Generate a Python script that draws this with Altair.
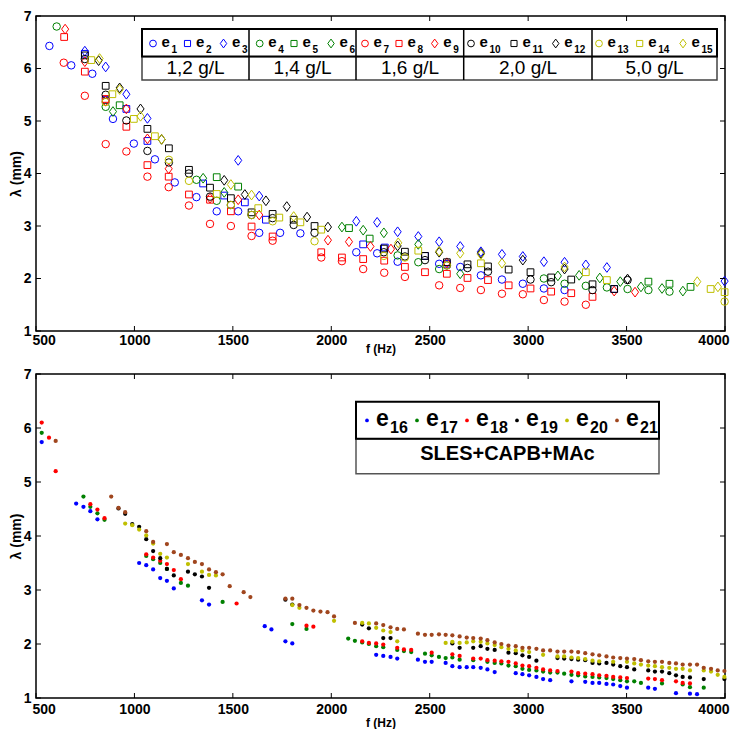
import altair as alt
import pandas as pd

FONT = "Liberation Sans"

# ---------------- top panel data (f in Hz, lambda in mm) ----------------
F_E1 = [568, 679, 786, 891, 997, 1104, 1205, 1315, 1418, 1527, 1634, 1740, 1843, 2127, 2233, 2337, 2548, 2655, 2760, 2867, 2973, 3080, 3185]
L_E1 = [6.43, 6.06, 5.90, 5.04, 4.57, 4.27, 3.83, 3.55, 3.28, 3.28, 2.87, 2.87, 2.86, 2.50, 2.48, 2.32, 2.28, 2.22, 2.06, 1.98, 1.90, 1.81, 1.78]
F_E2 = [748, 854, 959, 1066, 1349, 1456, 1561, 1668, 2162, 2272, 2476, 2587, 3437]
L_E2 = [6.28, 5.40, 5.23, 4.62, 3.81, 3.58, 3.45, 3.12, 2.65, 2.59, 2.43, 2.28, 1.80]
F_E3 = [748, 854, 959, 1066, 1527, 1634, 2127, 2233, 2337, 2442, 2548, 2655, 2760, 2867, 2973, 3080, 3185, 3293, 3400, 3998]
L_E3 = [6.33, 6.03, 5.51, 5.05, 4.25, 3.57, 3.09, 3.07, 2.89, 2.80, 2.70, 2.61, 2.51, 2.46, 2.42, 2.32, 2.31, 2.26, 2.21, 1.95]
F_E4 = [605, 854, 1315, 1418, 2337, 2442, 2548, 3080, 3185, 3293, 3400, 3505, 3611, 3718]
L_E4 = [6.80, 5.27, 3.88, 3.48, 2.44, 2.31, 2.18, 2.00, 1.90, 1.86, 1.83, 1.80, 1.78, 1.75]
F_E5 = [925, 1418, 1527, 2090, 2195, 3611, 3718, 3825]
L_E5 = [5.30, 3.93, 3.75, 2.96, 2.76, 1.94, 1.90, 1.84]
F_E6 = [891, 1349, 1456, 2054, 2162, 2267, 2442, 2655, 3151, 3259, 3364, 3468, 3573, 3680, 3786]
L_E6 = [5.18, 3.91, 3.64, 2.98, 2.92, 2.87, 2.65, 2.09, 2.05, 2.06, 2.01, 1.94, 1.84, 1.81, 1.76]
F_E7 = [641, 748, 854, 959, 1066, 1174, 1277, 1384, 1490, 1595, 1702, 1949, 2054, 2162, 2269, 2374, 2548, 2655, 2760, 2867, 2973, 3080, 3185, 3293]
L_E7 = [6.11, 5.48, 4.56, 4.42, 3.94, 3.74, 3.39, 3.04, 3.00, 2.81, 2.72, 2.40, 2.33, 2.18, 2.11, 2.03, 1.87, 1.82, 1.78, 1.71, 1.70, 1.59, 1.56, 1.50]
F_E8 = [643, 748, 854, 959, 1066, 1174, 1277, 1384, 1490, 1595, 1702, 1949, 2054, 2162, 2269, 2374, 2476, 2587, 2692, 2796, 2901, 3012, 3117, 3219, 3327]
L_E8 = [6.60, 5.94, 5.42, 4.89, 4.16, 3.94, 3.60, 3.50, 3.28, 2.99, 2.80, 2.50, 2.40, 2.37, 2.34, 2.22, 2.12, 2.09, 2.01, 1.97, 1.87, 1.81, 1.75, 1.72, 1.65]
F_E9 = [648, 748, 854, 959, 1066, 1174, 1384, 1527, 1634, 1983, 2090, 2199, 2303, 2587, 3437, 3543]
L_E9 = [6.75, 6.13, 5.38, 5.23, 4.66, 4.09, 3.53, 3.50, 3.21, 2.73, 2.70, 2.61, 2.56, 2.30, 1.76, 1.74]
F_E10 = [748, 854, 959, 1066, 1175, 1277, 1384, 1490, 1595, 1702, 1809, 1915, 2267, 2374, 2476, 2587, 2692, 2796, 3012, 3117, 3327, 3505]
L_E10 = [6.18, 5.50, 5.01, 4.43, 4.21, 4.00, 3.56, 3.40, 3.21, 3.15, 3.02, 2.87, 2.50, 2.42, 2.35, 2.25, 2.20, 2.13, 1.98, 1.93, 1.78, 1.97]
F_E11 = [748, 854, 1066, 1175, 1277, 1384, 1490, 1595, 1702, 1809, 1915, 2267, 2374, 2476, 2587, 2692, 2796, 2901, 3012, 3117, 3219, 3327, 3437]
L_E11 = [6.25, 5.67, 4.85, 4.48, 4.07, 3.73, 3.53, 3.26, 3.23, 3.12, 3.00, 2.57, 2.51, 2.43, 2.31, 2.27, 2.23, 2.17, 2.12, 2.02, 1.98, 1.89, 1.80]
F_E12 = [818, 925, 1031, 1138, 1456, 1561, 1668, 1774, 1877, 1983, 2337, 2548, 2760, 2973, 3185, 3505]
L_E12 = [6.15, 5.63, 5.23, 4.65, 3.87, 3.60, 3.48, 3.37, 3.17, 2.98, 2.62, 2.50, 2.48, 2.35, 2.18, 1.99]
F_E13 = [854, 1175, 1277, 1490, 1595, 1702, 1915, 2267, 2374, 2587, 3998]
L_E13 = [5.36, 4.26, 3.86, 3.40, 3.21, 3.09, 2.71, 2.43, 2.40, 2.25, 1.56]
F_E14 = [781, 888, 997, 1104, 1418, 1629, 1736, 1843, 1949, 2442, 2760, 3293, 3400, 3927, 3998]
L_E14 = [6.16, 5.51, 5.04, 4.71, 3.61, 3.34, 3.16, 3.07, 2.93, 2.53, 2.29, 2.12, 1.97, 1.80, 1.74]
F_E15 = [823, 925, 1031, 1138, 1490, 1595, 1809, 2340, 2548, 2655, 2760, 2867, 3185, 3859, 3964]
L_E15 = [6.19, 5.60, 5.09, 4.65, 3.79, 3.59, 3.18, 2.68, 2.52, 2.48, 2.46, 2.29, 2.22, 1.94, 1.84]

TOP_NAMES = ["e1", "e2", "e3", "e4", "e5", "e6", "e7", "e8", "e9", "e10", "e11", "e12", "e13", "e14", "e15"]
TOP_F = [F_E1, F_E2, F_E3, F_E4, F_E5, F_E6, F_E7, F_E8, F_E9, F_E10, F_E11, F_E12, F_E13, F_E14, F_E15]
TOP_L = [L_E1, L_E2, L_E3, L_E4, L_E5, L_E6, L_E7, L_E8, L_E9, L_E10, L_E11, L_E12, L_E13, L_E14, L_E15]
GROUP_LABELS = ["1,2 g/L", "1,4 g/L", "1,6 g/L", "2,0 g/L", "5,0 g/L"]

# ---------------- bottom panel data ----------------
F_E16 = [529, 704, 741, 776, 812, 1024, 1060, 1095, 1131, 1165, 1200, 1343, 1379, 1662, 1696, 1767, 1802, 2228, 2264, 2301, 2335, 2440, 2476, 2510, 2581, 2615, 2652, 2688, 2721, 2759, 2793, 2830, 2937, 2971, 3005, 3042, 3076, 3112, 3220, 3290, 3327, 3361, 3398, 3432, 3468, 3502, 3610, 3644, 3751, 3822, 3858]
L_E16 = [5.74, 4.60, 4.54, 4.46, 4.31, 3.50, 3.46, 3.38, 3.22, 3.17, 3.03, 2.81, 2.73, 2.33, 2.27, 2.05, 2.01, 1.80, 1.78, 1.76, 1.73, 1.71, 1.67, 1.67, 1.65, 1.59, 1.57, 1.57, 1.57, 1.56, 1.53, 1.48, 1.46, 1.44, 1.42, 1.39, 1.35, 1.33, 1.31, 1.30, 1.28, 1.28, 1.26, 1.25, 1.22, 1.19, 1.19, 1.17, 1.09, 1.08, 1.07]
F_E17 = [529, 741, 776, 812, 848, 1060, 1095, 1131, 1165, 1236, 1272, 1448, 1802, 1874, 2086, 2120, 2157, 2191, 2228, 2264, 2335, 2369, 2406, 2476, 2510, 2547, 2581, 2615, 2652, 2721, 2793, 2830, 2864, 2900, 2937, 2971, 3005, 3042, 3076, 3112, 3149, 3183, 3220, 3254, 3290, 3327, 3361, 3398, 3432, 3468, 3502, 3539, 3573, 3680, 3785, 3822, 3892]
L_E17 = [5.91, 4.73, 4.54, 4.42, 4.30, 3.63, 3.57, 3.50, 3.39, 3.13, 3.08, 2.78, 2.37, 2.28, 2.10, 2.06, 2.03, 2.00, 1.96, 1.94, 1.89, 1.87, 1.85, 1.82, 1.79, 1.76, 1.74, 1.75, 1.71, 1.70, 1.67, 1.65, 1.64, 1.60, 1.59, 1.54, 1.52, 1.51, 1.49, 1.47, 1.47, 1.45, 1.43, 1.42, 1.40, 1.39, 1.38, 1.37, 1.35, 1.33, 1.31, 1.31, 1.28, 1.27, 1.25, 1.20, 1.19]
F_E18 = [529, 566, 600, 776, 812, 848, 1060, 1095, 1131, 1165, 1200, 1236, 1519, 1874, 1909, 2157, 2191, 2228, 2264, 2335, 2369, 2406, 2510, 2615, 2652, 2721, 2759, 2793, 2830, 2864, 2900, 2937, 2971, 3005, 3042, 3076, 3112, 3149, 3220, 3254, 3290, 3327, 3361, 3398, 3432, 3468, 3502, 3610, 3644, 3680, 3751, 3785, 3822]
L_E18 = [6.10, 5.82, 5.20, 4.59, 4.49, 4.33, 3.66, 3.60, 3.54, 3.48, 3.37, 3.20, 2.75, 2.34, 2.32, 2.05, 2.02, 2.01, 1.99, 1.93, 1.90, 1.89, 1.84, 1.81, 1.78, 1.73, 1.73, 1.70, 1.69, 1.68, 1.67, 1.64, 1.60, 1.59, 1.56, 1.53, 1.51, 1.50, 1.49, 1.46, 1.45, 1.44, 1.42, 1.41, 1.39, 1.38, 1.37, 1.36, 1.35, 1.33, 1.31, 1.28, 1.27]
F_E19 = [919, 953, 989, 1024, 1060, 1095, 1131, 1165, 1200, 1272, 1307, 1343, 1379, 1767, 1802, 2157, 2191, 2264, 2301, 2615, 2652, 2721, 2759, 2793, 2830, 2900, 2937, 2971, 3005, 3042, 3149, 3183, 3220, 3254, 3290, 3327, 3361, 3398, 3432, 3468, 3502, 3539, 3610, 3644, 3680, 3717, 3751, 3785, 3822, 3892, 3997]
L_E19 = [4.51, 4.41, 4.22, 4.17, 3.94, 3.72, 3.59, 3.39, 3.27, 3.34, 3.29, 3.25, 3.04, 2.82, 2.73, 2.36, 2.29, 2.11, 2.11, 2.01, 1.93, 1.93, 1.96, 1.91, 1.89, 1.84, 1.83, 1.79, 1.76, 1.69, 1.74, 1.73, 1.72, 1.71, 1.70, 1.65, 1.64, 1.65, 1.62, 1.59, 1.57, 1.53, 1.51, 1.49, 1.49, 1.46, 1.42, 1.39, 1.38, 1.35, 1.35]
F_E20 = [953, 989, 1024, 1060, 1095, 1131, 1165, 1272, 1343, 1379, 1414, 1802, 1838, 2014, 2157, 2191, 2228, 2264, 2301, 2335, 2581, 2615, 2652, 2688, 2721, 2759, 2793, 2830, 2864, 2900, 2937, 2971, 3005, 3076, 3149, 3183, 3220, 3254, 3290, 3327, 3361, 3432, 3502, 3539, 3573, 3610, 3644, 3680, 3717, 3751, 3785, 3822, 3892, 3929, 3963, 3997]
L_E20 = [4.23, 4.20, 4.12, 4.01, 3.86, 3.67, 3.60, 3.48, 3.34, 3.28, 3.27, 2.72, 2.67, 2.43, 2.39, 2.38, 2.30, 2.25, 2.22, 2.05, 2.02, 2.04, 2.02, 2.03, 2.05, 2.04, 2.01, 1.98, 1.94, 1.91, 1.88, 1.88, 1.85, 1.80, 1.77, 1.77, 1.75, 1.74, 1.72, 1.69, 1.68, 1.67, 1.67, 1.64, 1.62, 1.60, 1.59, 1.57, 1.56, 1.54, 1.54, 1.51, 1.51, 1.49, 1.43, 1.39]
F_E21 = [600, 882, 919, 953, 1060, 1095, 1165, 1200, 1236, 1272, 1307, 1343, 1379, 1414, 1448, 1484, 1555, 1589, 1767, 1802, 1838, 1874, 1909, 1945, 1981, 2014, 2120, 2228, 2264, 2301, 2335, 2369, 2440, 2476, 2510, 2547, 2581, 2615, 2652, 2688, 2721, 2759, 2793, 2830, 2864, 2900, 2937, 2971, 3005, 3042, 3076, 3112, 3149, 3183, 3220, 3254, 3290, 3327, 3361, 3398, 3432, 3468, 3502, 3539, 3573, 3610, 3644, 3680, 3717, 3751, 3785, 3822, 3858, 3892, 3929, 3963, 3997]
L_E21 = [5.76, 4.73, 4.52, 4.44, 4.09, 3.89, 3.85, 3.70, 3.65, 3.59, 3.52, 3.48, 3.38, 3.33, 3.29, 3.07, 2.96, 2.87, 2.84, 2.84, 2.72, 2.67, 2.62, 2.60, 2.59, 2.51, 2.39, 2.38, 2.35, 2.31, 2.28, 2.27, 2.19, 2.17, 2.17, 2.18, 2.17, 2.16, 2.14, 2.12, 2.11, 2.10, 2.07, 2.03, 2.00, 1.97, 1.96, 1.93, 1.93, 1.91, 1.88, 1.88, 1.86, 1.86, 1.86, 1.85, 1.83, 1.81, 1.79, 1.77, 1.75, 1.74, 1.73, 1.72, 1.70, 1.68, 1.67, 1.67, 1.65, 1.64, 1.62, 1.62, 1.62, 1.56, 1.54, 1.51, 1.50]

BOT_NAMES = ["e16", "e17", "e18", "e19", "e20", "e21"]
BOT_F = [F_E16, F_E17, F_E18, F_E19, F_E20, F_E21]
BOT_L = [L_E16, L_E17, L_E18, L_E19, L_E20, L_E21]
BOT_LABEL = "SLES+CAPB+MAc"

X_TICKS = [500, 1000, 1500, 2000, 2500, 3000, 3500, 4000]
Y_TICKS = [1, 2, 3, 4, 5, 6, 7]
X_TITLE = "f (Hz)"
Y_TITLE = "λ (mm)"

# ---------------- styling ----------------
BLUE, GREEN, RED, BLACK, YELLOW, BROWN = "#0000ff", "#008000", "#ff0000", "#000000", "#bfbf00", "#a0461e"
TOP_COLORS = [BLUE] * 3 + [GREEN] * 3 + [RED] * 3 + [BLACK] * 3 + [YELLOW] * 3
SQUARE = "M-0.9,-0.9H0.9V0.9H-0.9Z"
DIAMOND = "M0,-1.3L0.95,0L0,1.3L-0.95,0Z"
TOP_SHAPES = ["circle", SQUARE, DIAMOND] * 5
BOT_COLORS = [BLUE, GREEN, RED, BLACK, YELLOW, BROWN]

W = 689
HT = 315
HB = 324
XMIN, XMAX, YMIN, YMAX = 500, 4000, 1, 7
TICK = 5


def fx(px):
    return XMIN + px * (XMAX - XMIN) / W


def ly(py, h):
    return YMAX - py * (YMAX - YMIN) / h


def encx(label_pad, title_y):
    return alt.X("f:Q", scale=alt.Scale(domain=[XMIN, XMAX], nice=False, zero=False),
                 axis=alt.Axis(values=X_TICKS, format="d", title=X_TITLE, grid=False, ticks=False,
                               tickSize=0, domain=False, labelFlush=True, labelFlushOffset=4,
                               labelFont=FONT, labelFontSize=14,
                               labelFontWeight="bold", labelColor="black", labelPadding=label_pad,
                               titleFont=FONT, titleFontSize=12, titleFontWeight="bold",
                               titleColor="black", titleY=title_y, titleBaseline="middle"))


def ency(h):
    return alt.Y("lam:Q", scale=alt.Scale(domain=[YMIN, YMAX], nice=False, zero=False),
                 axis=alt.Axis(values=Y_TICKS, format="d", title=Y_TITLE, grid=False, ticks=False,
                               tickSize=0, domain=False, labelFlush=False, labelFont=FONT, labelFontSize=14,
                               labelFontWeight="bold", labelColor="black", labelPadding=5,
                               titleFont=FONT, titleFontSize=14, titleFontWeight="bold",
                               titleColor="black", titleAngle=-90, titleX=-20, titleY=h / 2,
                               titleAlign="center", titleBaseline="middle"))


def tick_layers(h, X, Y):
    bt = pd.DataFrame({"f": X_TICKS, "lam": [YMIN] * len(X_TICKS), "lam2": [ly(h - TICK, h)] * len(X_TICKS)})
    tt = pd.DataFrame({"f": X_TICKS, "lam": [YMAX] * len(X_TICKS), "lam2": [ly(TICK, h)] * len(X_TICKS)})
    lt = pd.DataFrame({"lam": Y_TICKS, "f": [XMIN] * len(Y_TICKS), "f2": [fx(TICK)] * len(Y_TICKS)})
    rt = pd.DataFrame({"lam": Y_TICKS, "f": [XMAX] * len(Y_TICKS), "f2": [fx(W - TICK)] * len(Y_TICKS)})
    layers = []
    for d in (bt, tt):
        layers.append(alt.Chart(d).mark_rule(color="black", strokeWidth=1).encode(x=X, y=Y, y2="lam2:Q"))
    for d in (lt, rt):
        layers.append(alt.Chart(d).mark_rule(color="black", strokeWidth=1).encode(x=X, x2="f2:Q", y=Y))
    return layers


# ================= TOP PANEL =================
XT = encx(2, 17)
YT = ency(HT)
rows = []
for name, fs, ls in zip(TOP_NAMES, TOP_F, TOP_L):
    for f, l in zip(fs, ls):
        rows.append({"f": f, "lam": l, "s": name})
top_df = pd.DataFrame(rows)

color_top = alt.Color("s:N", scale=alt.Scale(domain=TOP_NAMES, range=TOP_COLORS), legend=None)
shape_top = alt.Shape("s:N", scale=alt.Scale(domain=TOP_NAMES, range=TOP_SHAPES), legend=None)

top_pts = alt.Chart(top_df).mark_point(filled=False, size=56, strokeWidth=1, opacity=1).encode(
    x=XT, y=YT, color=color_top, shape=shape_top)

# legend geometry (pixels relative to the plot area)
LEG_X0, LEG_X1 = 106, 681
LEG_Y0, LEG_YM, LEG_Y1 = 13, 40.5, 64
LEG_DIV = [213, 320, 427.7, 556]
LEG_MARK_X = [117, 151.5, 187.5, 223.7, 258, 295, 329, 363, 398.7, 435, 478, 519.7, 563, 603.7, 647]
LEG_GROUP_X = [159.5, 266.5, 374, 492, 618.5]

row2 = pd.DataFrame({"f": [fx(LEG_X0)], "f2": [fx(LEG_X1)], "lam": [ly(LEG_YM, HT)], "lam2": [ly(LEG_Y1, HT)]})
row1 = pd.DataFrame({"f": [fx(LEG_X0)], "f2": [fx(LEG_X1)], "lam": [ly(LEG_Y0, HT)], "lam2": [ly(LEG_YM, HT)]})
leg_r2 = alt.Chart(row2).mark_rect(fill="white", stroke="#444444", strokeWidth=1.5).encode(x=XT, x2="f2:Q", y=YT, y2="lam2:Q")
leg_r1 = alt.Chart(row1).mark_rect(fill="white", stroke="black", strokeWidth=2).encode(x=XT, x2="f2:Q", y=YT, y2="lam2:Q")
divs = pd.DataFrame({"f": [fx(v) for v in LEG_DIV], "lam": [ly(LEG_Y0, HT)] * 4, "lam2": [ly(LEG_Y1, HT)] * 4})
leg_div = alt.Chart(divs).mark_rule(color="black", strokeWidth=1.5).encode(x=XT, y=YT, y2="lam2:Q")

lm = pd.DataFrame({"f": [fx(v) for v in LEG_MARK_X], "lam": [ly(27.5, HT)] * 15, "s": TOP_NAMES})
leg_marks = alt.Chart(lm).mark_point(filled=False, size=46, strokeWidth=1, opacity=1).encode(
    x=XT, y=YT, color=color_top, shape=shape_top)
le = pd.DataFrame({"f": [fx(v + 8.5) for v in LEG_MARK_X], "lam": [ly(25.5, HT)] * 15, "t": ["e"] * 15})
leg_e = alt.Chart(le).mark_text(align="left", baseline="middle", font=FONT, fontSize=15, fontWeight="bold",
                                color="black").encode(x=XT, y=YT, text="t:N")
ls_ = pd.DataFrame({"f": [fx(v + 18.5) for v in LEG_MARK_X], "lam": [ly(33.5, HT)] * 15, "t": [n[1:] for n in TOP_NAMES]})
leg_sub = alt.Chart(ls_).mark_text(align="left", baseline="middle", font=FONT, fontSize=10, fontWeight="bold",
                                   color="black").encode(x=XT, y=YT, text="t:N")
lg = pd.DataFrame({"f": [fx(v) for v in LEG_GROUP_X], "lam": [ly(52, HT)] * 5, "t": GROUP_LABELS})
leg_grp = alt.Chart(lg).mark_text(align="center", baseline="middle", font=FONT, fontSize=19,
                                  color="black").encode(x=XT, y=YT, text="t:N")

top = alt.layer(top_pts, *tick_layers(HT, XT, YT), leg_r2, leg_r1, leg_div, leg_marks, leg_e, leg_sub, leg_grp
                ).properties(width=W, height=HT)

# ================= BOTTOM PANEL =================
XB = encx(4, 24)
YB = ency(HB)
rows = []
for name, fs, ls in zip(BOT_NAMES, BOT_F, BOT_L):
    for f, l in zip(fs, ls):
        rows.append({"f": f, "lam": l, "b": name})
bot_df = pd.DataFrame(rows)
color_bot = alt.Color("b:N", scale=alt.Scale(domain=BOT_NAMES, range=BOT_COLORS), legend=None)

bot_pts = alt.Chart(bot_df).mark_circle(size=18, opacity=1).encode(x=XB, y=YB, color=color_bot)

BL_X0, BL_X1 = 320, 623
BL_Y0, BL_YM, BL_Y1 = 27.7, 64.7, 99.7
BL_DOT_X = [331 + 50 * i for i in range(6)]

brow2 = pd.DataFrame({"f": [fx(BL_X0)], "f2": [fx(BL_X1)], "lam": [ly(BL_YM, HB)], "lam2": [ly(BL_Y1, HB)]})
brow1 = pd.DataFrame({"f": [fx(BL_X0)], "f2": [fx(BL_X1)], "lam": [ly(BL_Y0, HB)], "lam2": [ly(BL_YM, HB)]})
bl_r2 = alt.Chart(brow2).mark_rect(fill="white", stroke="#555555", strokeWidth=1.5).encode(x=XB, x2="f2:Q", y=YB, y2="lam2:Q")
bl_r1 = alt.Chart(brow1).mark_rect(fill="white", stroke="black", strokeWidth=2).encode(x=XB, x2="f2:Q", y=YB, y2="lam2:Q")
bd = pd.DataFrame({"f": [fx(v) for v in BL_DOT_X], "lam": [ly(46.4, HB)] * 6, "b": BOT_NAMES})
bl_dots = alt.Chart(bd).mark_circle(size=14, opacity=1).encode(x=XB, y=YB, color=color_bot)
be = pd.DataFrame({"f": [fx(v + 9) for v in BL_DOT_X], "lam": [ly(44.7, HB)] * 6, "t": ["e"] * 6})
bl_e = alt.Chart(be).mark_text(align="left", baseline="middle", font=FONT, fontSize=23, fontWeight="bold",
                               color="black").encode(x=XB, y=YB, text="t:N")
bs = pd.DataFrame({"f": [fx(v + 23) for v in BL_DOT_X], "lam": [ly(53.7, HB)] * 6, "t": [n[1:] for n in BOT_NAMES]})
bl_sub = alt.Chart(bs).mark_text(align="left", baseline="middle", font=FONT, fontSize=16, fontWeight="bold",
                                 color="black").encode(x=XB, y=YB, text="t:N")
bt = pd.DataFrame({"f": [fx(471.5)], "lam": [ly(79.5, HB)], "t": [BOT_LABEL]})
bl_txt = alt.Chart(bt).mark_text(align="center", baseline="middle", font=FONT, fontSize=20, fontWeight="bold",
                                 color="black").encode(x=XB, y=YB, text="t:N")

bottom = alt.layer(bot_pts, *tick_layers(HB, XB, YB), bl_r2, bl_r1, bl_dots, bl_e, bl_sub, bl_txt
                   ).properties(width=W, height=HB)

chart = alt.vconcat(top, bottom, spacing=11).resolve_scale(
    color="independent", shape="independent"
).properties(
    padding={"left": 0, "top": 0, "right": 0, "bottom": 0},
    background="white",
).configure_view(stroke="black", strokeWidth=1.5)

chart.save("out.html", embed_options={"renderer": "svg", "actions": False})
